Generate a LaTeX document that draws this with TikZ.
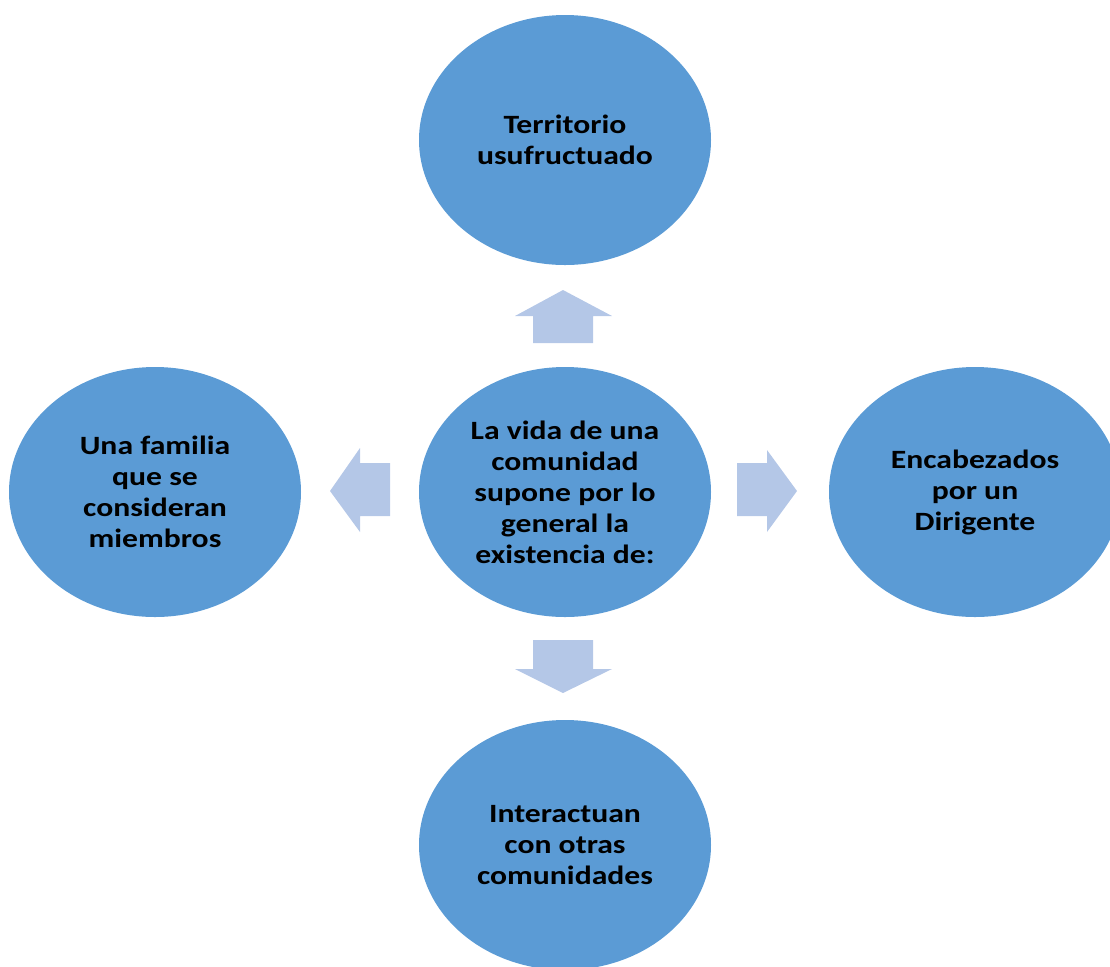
\documentclass[tikz,border=0pt]{standalone}
\usepackage{fontspec}
\setmainfont{Carlito}[FakeStretch=1.2]
\usetikzlibrary{shapes.geometric}

\definecolor{bubble}{HTML}{5B9BD5}
\definecolor{arrowblue}{HTML}{B4C7E7}

\tikzset{
  bubble/.style={ellipse,fill=bubble,minimum width=146pt,minimum height=125pt,
    inner sep=0pt,align=center,font=\fontsize{13.2}{15.5}\selectfont\bfseries},
  blockarrow/.style={fill=arrowblue}
}

\begin{document}
\begin{tikzpicture}[x=0.5pt,y=-0.5pt]
  \useasboundingbox (0,0) rectangle (1110,966);
  \node[bubble] (center) at (565,492) {La vida de una\\comunidad\\supone por lo\\general la\\existencia de:};
  \node[bubble] (top) at (565,140) {Territorio\\usufructuado};
  \node[bubble] (left) at (155,492) {Una familia\\que se\\consideran\\miembros};
  \node[bubble] (right) at (975,492) {Encabezados\\por un\\Dirigente};
  \node[bubble] (bottom) at (565,845) {Interactuan\\con otras\\comunidades};
  % up
  \fill[blockarrow] (533,343) -- (533,316) -- (515,316) -- (563,290) -- (612,316) -- (593,316) -- (593,343) -- cycle;
  % down
  \fill[blockarrow] (533,640) -- (533,669) -- (515,669) -- (563,693) -- (612,669) -- (593,669) -- (593,640) -- cycle;
  % left
  \fill[blockarrow] (390,463) -- (360,463) -- (360,448) -- (330,491) -- (360,532) -- (360,516) -- (390,516) -- cycle;
  % right
  \fill[blockarrow] (737,463) -- (767,463) -- (767,450) -- (797,491) -- (767,532) -- (767,516) -- (737,516) -- cycle;
\end{tikzpicture}
\end{document}
